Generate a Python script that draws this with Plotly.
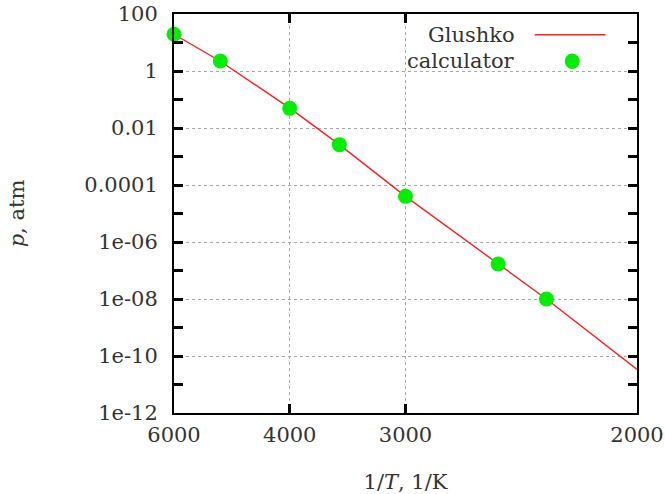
import plotly.graph_objects as go

# ---- data ----
T_line = [6000, 5000, 4000, 3500, 3000, 2500, 2300, 2000]
p_line = [19.5, 2.2, 0.05, 0.0026, 4.0e-5, 1.7e-7, 1.0e-8, 3.4e-11]

T_calc = [6000, 5000, 4000, 3500, 3000, 2500, 2300]
p_calc = [19.5, 2.24, 0.049, 0.0026, 4.0e-5, 1.7e-7, 1.0e-8]

x_ticks_T = [6000, 4000, 3000, 2000]
y_ticks = [1e2, 1, 1e-2, 1e-4, 1e-6, 1e-8, 1e-10, 1e-12]
y_tick_text = ["100", "1", "0.01", "0.0001", "1e-06", "1e-08", "1e-10", "1e-12"]
y_minor = [1e1, 1e-1, 1e-3, 1e-5, 1e-7, 1e-9, 1e-11]

FONT = "DejaVu Serif"
TXT = "#333333"
FS = 21
TICK = dict(ticks="inside", ticklen=9, tickwidth=2.5, tickcolor="#000000")

xv = [1.0 / t for t in T_line]
XR = [1.0 / 6000, 1.0 / 2000]

fig = go.Figure()
fig.add_trace(go.Scatter(
    x=xv, y=p_line, mode="lines",
    line=dict(color="#ff2020", width=1.4), name="Glushko", showlegend=False))
fig.add_trace(go.Scatter(
    x=[1.0 / t for t in T_calc], y=p_calc, mode="markers",
    marker=dict(color="#00ee00", size=15, line=dict(width=0)),
    name="calculator", showlegend=False, cliponaxis=False))
# invisible helper traces so the tick-only overlay axes are drawn
fig.add_trace(go.Scatter(x=xv, y=p_line, yaxis="y2", mode="lines",
                         line=dict(width=0), opacity=0, hoverinfo="skip", showlegend=False))
fig.add_trace(go.Scatter(x=xv, y=p_line, xaxis="x2", yaxis="y3", mode="lines",
                         line=dict(width=0), opacity=0, hoverinfo="skip", showlegend=False))

fig.update_xaxes(
    range=XR, automargin=False,
    tickvals=[1.0 / t for t in x_ticks_T], ticktext=[str(t) for t in x_ticks_T],
    showline=True, linecolor="black", linewidth=2, mirror="ticks",
    showgrid=True, gridcolor="#a8a8a8", griddash="dot", gridwidth=1,
    zeroline=False, ticklabelstandoff=2, layer="above traces",
    title=dict(text="1/<i>T</i>, 1/K", standoff=28, font=dict(size=FS, family=FONT, color=TXT)),
    tickfont=dict(size=FS, family=FONT, color=TXT), **TICK,
)
fig.update_yaxes(
    type="log", range=[-12, 2], automargin=False,
    tickvals=y_ticks, ticktext=y_tick_text,
    showline=True, linecolor="black", linewidth=2, mirror="ticks",
    showgrid=True, gridcolor="#a8a8a8", griddash="dot", gridwidth=1,
    zeroline=False, ticklabelstandoff=10, layer="above traces",
    title=dict(text="<i>p</i>, atm", standoff=54, font=dict(size=FS, family=FONT, color=TXT)),
    tickfont=dict(size=FS, family=FONT, color=TXT), **TICK,
)
fig.update_layout(
    # minor decade ticks (mirrored to the right)
    yaxis2=dict(overlaying="y", anchor="x", side="left", type="log", range=[-12, 2],
                tickmode="array", tickvals=y_minor, showticklabels=False,
                showline=True, linecolor="black", linewidth=2, mirror="ticks",
                showgrid=False, zeroline=False, automargin=False, layer="above traces", **TICK),
    # all decade ticks on the right, mirrored onto the left side
    yaxis3=dict(overlaying="y", anchor="x2", side="right", type="log", range=[-12, 2],
                tickmode="array", tickvals=y_ticks + y_minor, showticklabels=False,
                showline=True, linecolor="black", linewidth=2, mirror="ticks",
                showgrid=False, zeroline=False, automargin=False, layer="above traces", **TICK),
    # x ticks on top, mirrored onto the bottom
    xaxis2=dict(overlaying="x", anchor="y3", side="top", range=XR,
                tickmode="array", tickvals=[1.0 / t for t in x_ticks_T], showticklabels=False,
                showline=True, linecolor="black", linewidth=2, mirror="ticks",
                showgrid=False, zeroline=False, automargin=False, layer="above traces", **TICK),
)

# legend drawn gnuplot-style (text left of key)
fig.add_shape(type="rect", xref="paper", yref="paper", x0=0.4, x1=0.965, y0=0.84, y1=1.0,
              fillcolor="white", line=dict(width=0), layer="between")
fig.add_shape(type="line", xref="paper", yref="paper", x0=0.779, x1=0.932, y0=0.948, y1=0.948,
              line=dict(color="#ff2020", width=1.4))
fig.add_shape(type="circle", xref="paper", yref="paper", x0=0.844, x1=0.876, y0=0.862, y1=0.901,
              fillcolor="#00ee00", line=dict(width=0))
fig.add_annotation(text="Glushko", xref="paper", yref="paper", x=0.74, y=0.948,
                   xanchor="right", yanchor="middle", showarrow=False,
                   font=dict(size=FS, family=FONT, color=TXT))
fig.add_annotation(text="calculator", xref="paper", yref="paper", x=0.74, y=0.881,
                   xanchor="right", yanchor="middle", showarrow=False,
                   font=dict(size=FS, family=FONT, color=TXT))

fig.update_layout(
    width=665, height=494,
    margin=dict(l=174, r=28, t=14, b=81),
    plot_bgcolor="white", paper_bgcolor="white",
    showlegend=False,
    font=dict(family=FONT, color=TXT),
)
fig.write_html("out.html")
